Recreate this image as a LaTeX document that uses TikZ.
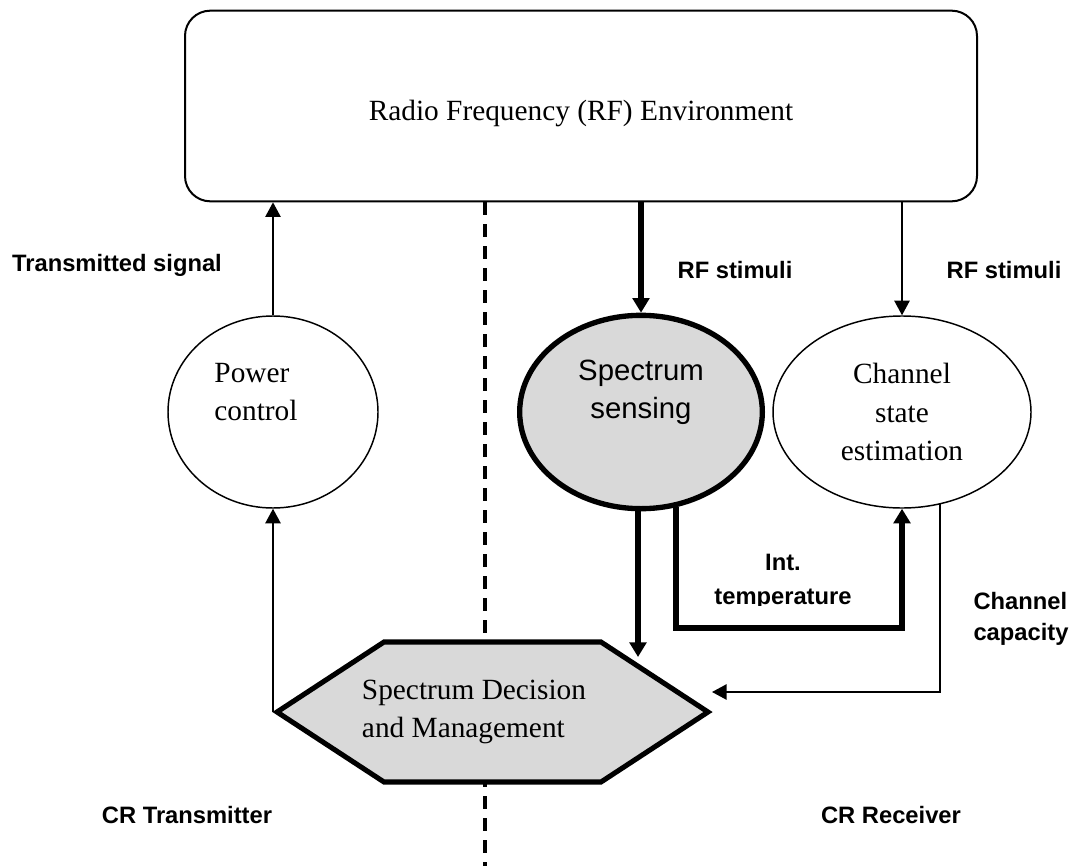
\documentclass[tikz,border=0pt]{standalone}
\usepackage{fontspec}
\setmainfont{Liberation Serif}
\setsansfont{Liberation Sans}
\usetikzlibrary{arrows.meta,shapes.geometric,calc}
\definecolor{fillgray}{HTML}{D9D9D9}

\begin{document}
\begin{tikzpicture}[x=0.75pt,y=-0.75pt,
  thinln/.style={line width=1.3pt},
  boldln/.style={line width=4pt},
  thintip/.style={-{Triangle[length=11pt,width=11.5pt]}},
  boldtip/.style={-{Triangle[length=11pt,width=12.5pt]}},
  serif/.style={font=\fontsize{22}{29}\selectfont, align=center},
  sanstext/.style={font=\sffamily\fontsize{22}{28.5}\selectfont, align=center},
  lbl/.style={font=\sffamily\bfseries\fontsize{17.8}{25.5}\selectfont, align=center},
  rfbox/.style={draw, line width=1.5pt, rounded corners=19pt, fill=white,
                minimum width=594pt, minimum height=143pt},
  plainell/.style={ellipse, draw, line width=1.1pt, fill=white},
  boldell/.style={ellipse, draw, line width=4pt, fill=fillgray},
  hexbox/.style={line width=3.8pt, fill=fillgray, line join=miter},
  divider/.style={line width=2.4pt, dash pattern=on 9.75pt off 6.75pt},
]
\useasboundingbox (0,0) rectangle (1073,866);

% main blocks
\node[rfbox, label={[serif, yshift=-5.25pt]center:Radio Frequency (RF) Environment}] (rf) at (581,106) {};
\node[plainell, minimum width=157.5pt, minimum height=144pt] (pc) at (273,412) {};
\node[serif, align=left] (pct) at (256,392) {Power\\control};
\node[boldell, minimum width=182pt, minimum height=145pt,
      label={[sanstext, yshift=15pt]center:{Spectrum\\sensing}}] (ss) at (641,412) {};
\node[plainell, serif, minimum width=193.5pt, minimum height=144pt] (ce) at (902,412) {Channel\\state\\estimation};

% transmitter / receiver divider
\coordinate (divend) at (485,866);
\draw[divider] (rf.south -| divend) -- (divend);

% decision and management hexagon
\coordinate (hL) at (277,712);
\coordinate (hTL) at (384,642);
\coordinate (hTR) at (601,642);
\coordinate (hR) at (708,712);
\coordinate (hBR) at (601,782);
\coordinate (hBL) at (384,782);
\filldraw[hexbox] (hL) -- (hTL) -- (hTR) -- (hR) -- (hBR) -- (hBL) -- cycle;
\node[serif, align=left] (dm) at (474,712) {Spectrum Decision\\and Management};

% connectors
\draw[thinln, thintip] (pc.north) -- (pc.north |- rf.south);
\draw[boldln, boldtip] (ss.north |- rf.south) -- (ss.north);
\draw[thinln, thintip] (ce.north |- rf.south) -- (ce.north);
\draw[thinln, thintip] (hL -| pc.south) -- (pc.south);

\coordinate (dmtop) at (638,657);
\draw[boldln, boldtip] (ss.south -| dmtop) -- (dmtop);

\coordinate (itL) at (676,628);
\draw[boldln, boldtip] (itL |- ss.-69) -- (itL) -- (itL -| ce.south) -- (ce.south);

\coordinate (capR) at (940,692);
\coordinate (dmright) at (712,692);
\draw[thinln, thintip] (capR |- ce.-67) -- (capR) -- (dmright);

% labels
\node[lbl] (ltx) at (117,265) {Transmitted signal};
\node[lbl] (lrf1) at (735,270) {RF stimuli};
\node[lbl] (lrf2) at (1004,270) {RF stimuli};
\begin{scope}
  \clip (690,540) rectangle (880,605);
  \node[lbl] (lint) at (783,582) {Int.\\temperature};
\end{scope}
\node[lbl, align=left, font=\sffamily\bfseries\fontsize{17.8}{23.3}\selectfont] (lcap) at (1021,619) {Channel\\capacity};
\node[lbl] (lcrt) at (187,815) {CR Transmitter};
\node[lbl] (lcrr) at (891,815) {CR Receiver};
\end{tikzpicture}
\end{document}
